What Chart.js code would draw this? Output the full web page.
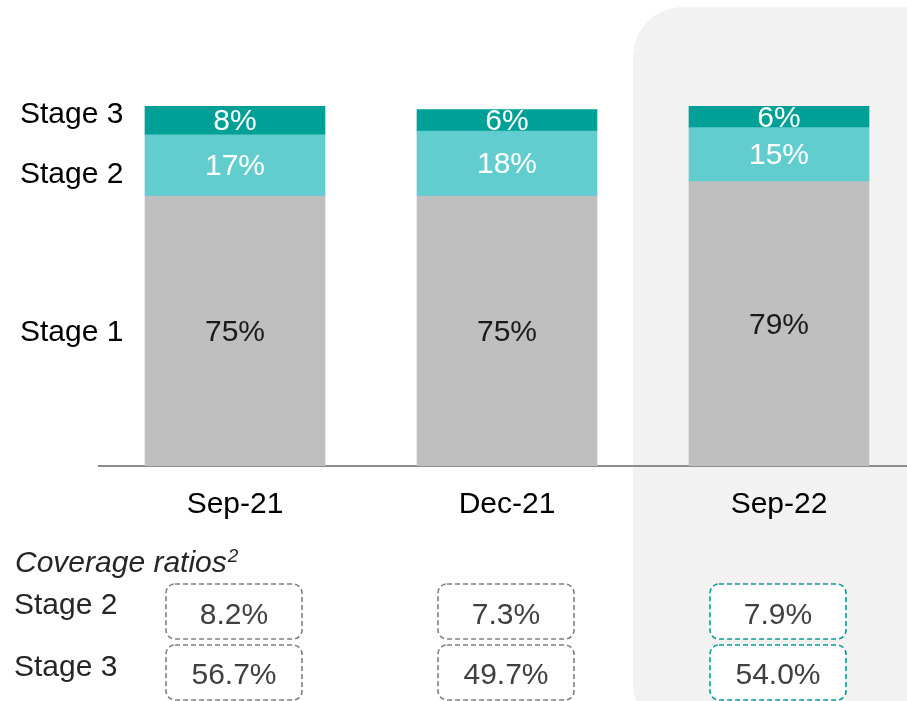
<!DOCTYPE html>
<html>
<head>
<meta charset="utf-8">
<script src="https://cdn.jsdelivr.net/npm/chart.js@4.4.1/dist/chart.umd.min.js"></script>
<style>
  html, body { margin: 0; padding: 0; background: #ffffff; overflow: hidden; }
  #wrap { width: 915px; height: 701px; }
</style>
</head>
<body>
<div id="wrap"><canvas id="c" width="915" height="701"></canvas></div>
<script>
// ---- data ----
const categories = ['Sep-21', 'Dec-21', 'Sep-22'];
const stage1 = [75, 75, 79];
const stage2 = [17, 18, 15];
const stage3 = [8, 6, 6];
const stageLabels = ['Stage 1', 'Stage 2', 'Stage 3'];
const coverageStage2 = [8.2, 7.3, 7.9];
const coverageStage3 = [56.7, 49.7, 54.0];
const coverageTitle = 'Coverage ratios';
const coverageSup = '2';
const highlightIndex = 2;

const FONT = '"Liberation Sans", Arial, Helvetica, sans-serif';

const panelPlugin = {
  id: 'panel',
  beforeDraw(chart) {
    const ctx = chart.ctx;
    const x = chart.scales.x;
    const left = x.getPixelForValue(highlightIndex) - 146;
    ctx.save();
    ctx.fillStyle = '#F2F2F2';
    ctx.beginPath();
    ctx.roundRect(left, 7, 1000, 727, 50);
    ctx.fill();
    ctx.restore();
  }
};

const labelPlugin = {
  id: 'segLabels',
  afterDatasetsDraw(chart) {
    const ctx = chart.ctx;
    const ys = chart.scales.y;
    ctx.save();
    ctx.font = '30px ' + FONT;
    ctx.textAlign = 'center';
    ctx.textBaseline = 'middle';
    chart.data.datasets.forEach((ds, di) => {
      const meta = chart.getDatasetMeta(di);
      meta.data.forEach((el, i) => {
        const p = el.getProps(['x', 'y', 'base'], true);
        ctx.fillStyle = di === 0 ? '#1a1a1a' : '#ffffff';
        ctx.fillText(ds.data[i] + '%', p.x, (p.y + p.base) / 2 + 1.5);
      });
    });
    // stage labels at the left, placed on the value scale
    const stageLabelValues = [36.9, 80.8, 97.5];
    ctx.fillStyle = '#000000';
    ctx.textAlign = 'left';
    stageLabels.forEach((t, i) => {
      ctx.fillText(t, 20, ys.getPixelForValue(stageLabelValues[i]));
    });
    ctx.restore();
  }
};

const coveragePlugin = {
  id: 'coverage',
  afterDraw(chart) {
    const ctx = chart.ctx;
    const xs = chart.scales.x;
    ctx.save();
    // title
    ctx.fillStyle = '#262626';
    ctx.textAlign = 'left';
    ctx.textBaseline = 'alphabetic';
    ctx.font = 'italic 30px ' + FONT;
    ctx.fillText(coverageTitle, 15, 572);
    const w = ctx.measureText(coverageTitle).width;
    ctx.font = 'italic 19px ' + FONT;
    ctx.fillText(coverageSup, 15 + w + 1, 562);
    // row labels
    ctx.font = '30px ' + FONT;
    ctx.fillText(stageLabels[1], 14, 614);
    ctx.fillText(stageLabels[2], 14, 676);
    // boxes
    const rows = [
      { vals: coverageStage2, top: 584, base: 624 },
      { vals: coverageStage3, top: 645, base: 684 }
    ];
    rows.forEach(r => {
      r.vals.forEach((v, i) => {
        const cx = xs.getPixelForValue(i) - 1;
        const bw = 136, bh = 55;
        ctx.beginPath();
        ctx.roundRect(cx - bw / 2, r.top, bw, bh, 9);
        ctx.fillStyle = '#ffffff';
        ctx.fill();
        ctx.setLineDash([5, 3]);
        ctx.lineWidth = 1.6;
        ctx.strokeStyle = i === highlightIndex ? '#00A096' : '#7F7F7F';
        ctx.stroke();
        ctx.setLineDash([]);
        ctx.fillStyle = '#404040';
        ctx.textAlign = 'center';
        ctx.font = '30px ' + FONT;
        ctx.fillText(v.toFixed(1) + '%', cx, r.base);
      });
    });
    ctx.restore();
  }
};

new Chart(document.getElementById('c'), {
  type: 'bar',
  data: {
    labels: categories,
    datasets: [
      { label: stageLabels[0], data: stage1, backgroundColor: '#BFBFBF' },
      { label: stageLabels[1], data: stage2, backgroundColor: '#62CDCF' },
      { label: stageLabels[2], data: stage3, backgroundColor: '#00A096' }
    ]
  },
  options: {
    responsive: false,
    animation: false,
    devicePixelRatio: 1,
    layout: { padding: { top: 106, left: 99, right: 0, bottom: 175 } },
    datasets: { bar: { barThickness: 180, borderWidth: 0 } },
    plugins: { legend: { display: false }, tooltip: { enabled: false } },
    scales: {
      x: {
        stacked: true,
        grid: { display: false, drawTicks: false },
        border: { display: true, color: '#8C8C8C', width: 2 },
        ticks: { color: '#000000', font: { family: FONT, size: 30 }, padding: 21 },
        afterFit(s) { s.height = 60; }
      },
      y: {
        display: false,
        stacked: true,
        min: 0,
        max: 100
      }
    }
  },
  plugins: [panelPlugin, labelPlugin, coveragePlugin]
});
</script>
</body>
</html>
